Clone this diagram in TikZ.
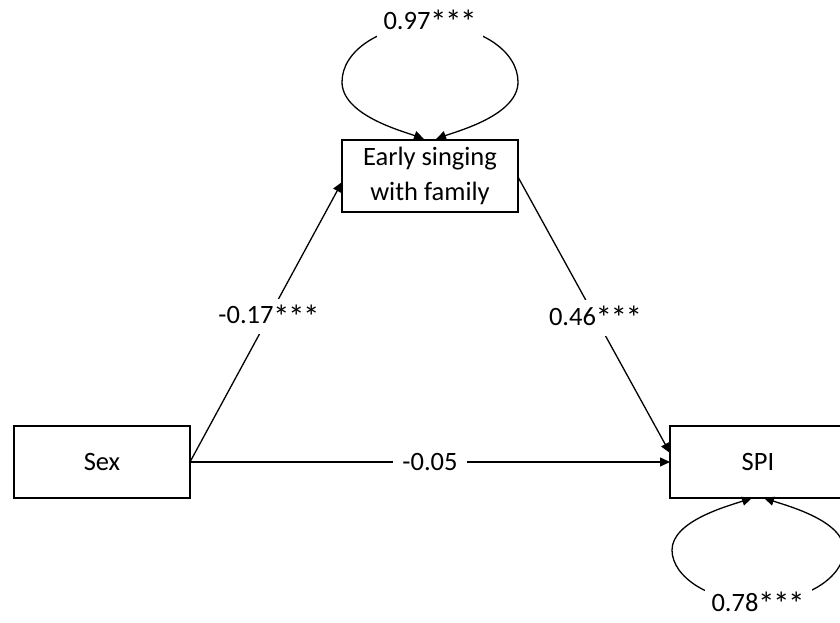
\documentclass[tikz,border=0pt]{standalone}
\usepackage{fontspec}
\usepackage{graphicx}
\setmainfont{Carlito}
\usetikzlibrary{arrows.meta}
\newcommand\mystars{\kern-0.5pt\raisebox{-0.35ex}{\scalebox{1.25}{*\kern-1.2pt*\kern-1.2pt*}}}
\begin{document}
\begin{tikzpicture}[x=1pt,y=1pt,
  every node/.style={font=\fontsize{26.5}{35}\selectfont},
  var/.style={draw, line width=1.3pt, minimum width=176pt, minimum height=72pt, align=center, inner sep=0pt},
  arr/.style={line width=1.3pt, -{Triangle[length=10pt,width=9pt]}},
  lbl/.style={fill=white, inner sep=3pt}]
\useasboundingbox (0,0) rectangle (840,623);
\node[var] (sex) at (102,161) {Sex};
\node[var] (spi) at (758,161) {SPI};
\node[var] (early) at (430,447) {Early singing\\with family};
% paths
\coordinate (sexE) at (190,161);
\coordinate (earlyW) at (342,441);
\coordinate (earlyE) at (518,446);
\coordinate (spiW1) at (670,170);
\coordinate (spiW2) at (670,161);
\draw[arr] (sexE) -- node[lbl, pos=0.52, inner ysep=6pt] (l1) {-0.17\mystars} (earlyW);
\draw[arr] (earlyE) -- node[lbl, pos=0.51, inner ysep=6pt] (l2) {0.46\mystars} (spiW1);
\draw[arr] (sexE) -- node[lbl, pos=0.5, inner xsep=9pt] (l3) {-0.05} (spiW2);
% loop on early
\coordinate (etop) at (430,598);
\coordinate (eL) at (424,484);
\coordinate (eR) at (436,484);
\draw[arr] (etop) .. controls (380,598) and (342,572) .. (342,541) .. controls (342,508) and (402,492) .. (eL);
\draw[arr] (etop) .. controls (480,598) and (518,572) .. (518,541) .. controls (518,508) and (458,492) .. (eR);
\node[lbl, inner sep=7pt] (v1) at (430,601) {0.97\mystars};
% loop on SPI
\coordinate (sbot) at (758,21);
\coordinate (sL) at (752,125);
\coordinate (sR) at (764,125);
\draw[arr] (sbot) .. controls (710,21) and (672,46) .. (672,73) .. controls (672,102) and (728,117) .. (sL);
\draw[arr] (sbot) .. controls (806,21) and (844,46) .. (844,73) .. controls (844,102) and (788,117) .. (sR);
\node[lbl, inner sep=7pt] (v2) at (758,19) {0.78\mystars};
\end{tikzpicture}
\end{document}
